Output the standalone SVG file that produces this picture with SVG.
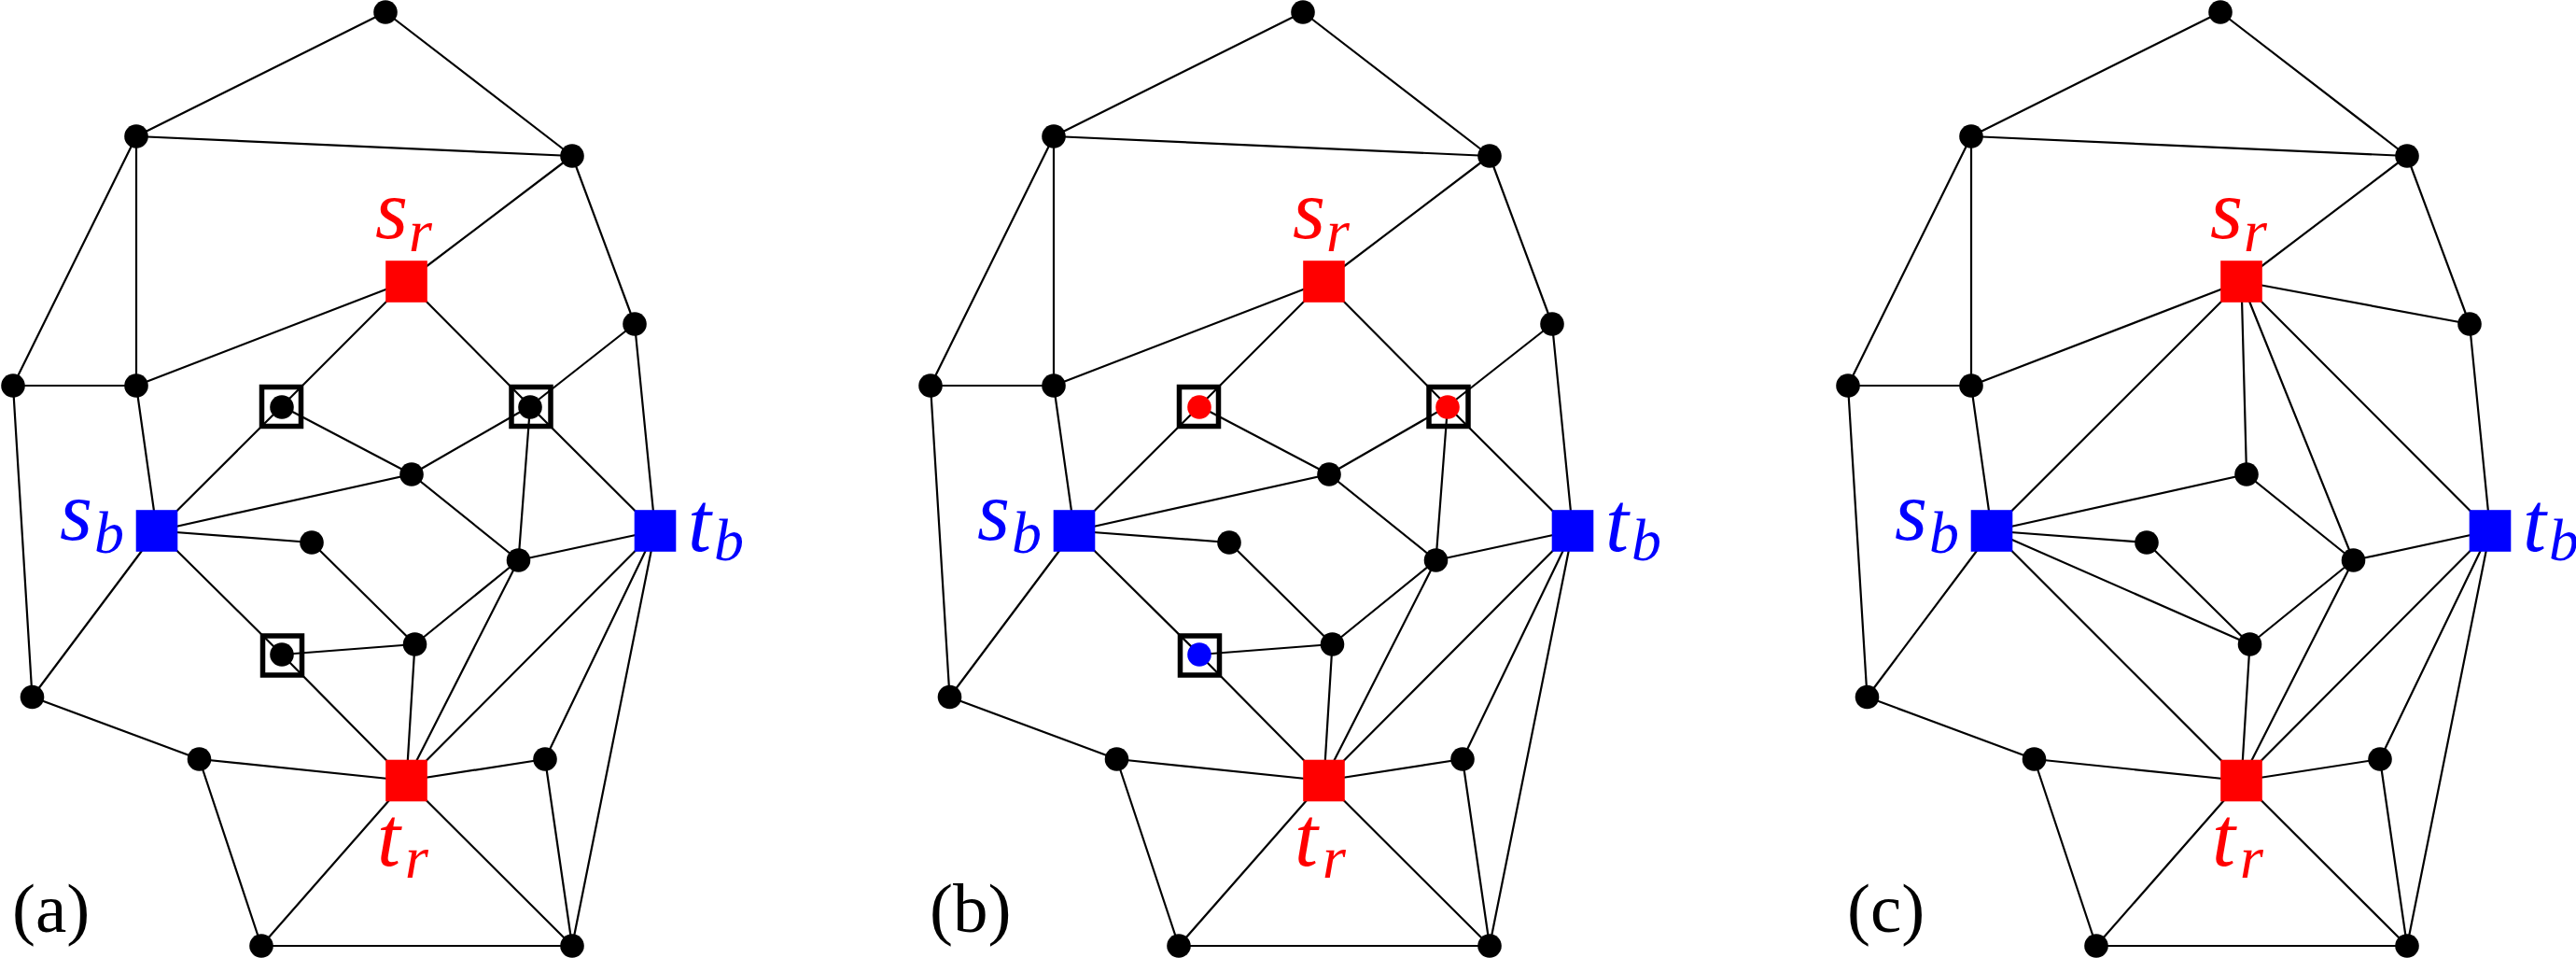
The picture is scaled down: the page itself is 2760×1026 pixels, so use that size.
<svg xmlns="http://www.w3.org/2000/svg" width="2760" height="1026" viewBox="0 0 2760 1026">
<style>
.e{stroke:#000;stroke-width:2.2;fill:none;stroke-linecap:round}
.box{fill:none;stroke:#000;stroke-width:5.5}
.red{fill:#ff0000}
.blue{fill:#0000ff}
text{font-family:'Liberation Serif','DejaVu Serif',serif}
.lab{font-style:italic;font-size:90px}
.sub{font-style:italic;font-size:64px}
.cap{font-size:75px;fill:#000}
</style>
<defs>
<circle id="dot" r="12.8"/>
<rect id="sq" x="-22.3" y="-22.3" width="44.6" height="44.6"/>
<rect id="bx" x="-21" y="-21" width="42" height="42"/>
</defs>
<rect width="2760" height="1026" fill="#fff"/>

<!-- Panel (a) -->
<g id="panel-a">
<g id="a-edges" class="e">
<line x1="413" y1="13" x2="146" y2="146"/>
<line x1="413" y1="13" x2="613" y2="167"/>
<line x1="146" y1="146" x2="613" y2="167"/>
<line x1="146" y1="146" x2="14" y2="413"/>
<line x1="146" y1="146" x2="146" y2="413"/>
<line x1="613" y1="167" x2="435.5" y2="301.5"/>
<line x1="613" y1="167" x2="680" y2="347"/>
<line x1="435.5" y1="301.5" x2="146" y2="413"/>
<line x1="435.5" y1="301.5" x2="302" y2="435"/>
<line x1="302" y1="435" x2="168" y2="568.5"/>
<line x1="302" y1="435" x2="441" y2="508"/>
<line x1="435.5" y1="301.5" x2="568" y2="435"/>
<line x1="568" y1="435" x2="680" y2="347"/>
<line x1="568" y1="435" x2="441" y2="508"/>
<line x1="568" y1="435" x2="555.5" y2="600"/>
<line x1="568" y1="435" x2="702" y2="568.5"/>
<line x1="680" y1="347" x2="702" y2="568.5"/>
<line x1="14" y1="413" x2="146" y2="413"/>
<line x1="14" y1="413" x2="34.5" y2="746.5"/>
<line x1="146" y1="413" x2="168" y2="568.5"/>
<line x1="441" y1="508" x2="168" y2="568.5"/>
<line x1="441" y1="508" x2="555.5" y2="600"/>
<line x1="168" y1="568.5" x2="334" y2="581"/>
<line x1="334" y1="581" x2="444.5" y2="690"/>
<line x1="168" y1="568.5" x2="302" y2="701"/>
<line x1="302" y1="701" x2="435.5" y2="836"/>
<line x1="302" y1="701" x2="444.5" y2="690"/>
<line x1="168" y1="568.5" x2="34.5" y2="746.5"/>
<line x1="34.5" y1="746.5" x2="213.5" y2="813"/>
<line x1="213.5" y1="813" x2="435.5" y2="836"/>
<line x1="213.5" y1="813" x2="280" y2="1013"/>
<line x1="555.5" y1="600" x2="702" y2="568.5"/>
<line x1="555.5" y1="600" x2="444.5" y2="690"/>
<line x1="555.5" y1="600" x2="435.5" y2="836"/>
<line x1="444.5" y1="690" x2="435.5" y2="836"/>
<line x1="702" y1="568.5" x2="435.5" y2="836"/>
<line x1="702" y1="568.5" x2="584" y2="813"/>
<line x1="702" y1="568.5" x2="613" y2="1013"/>
<line x1="435.5" y1="836" x2="584" y2="813"/>
<line x1="435.5" y1="836" x2="280" y2="1013"/>
<line x1="435.5" y1="836" x2="613" y2="1013"/>
<line x1="584" y1="813" x2="613" y2="1013"/>
<line x1="280" y1="1013" x2="613" y2="1013"/>
</g>
<g id="a-A"><use href="#dot" x="413" y="13"/></g>
<g id="a-B"><use href="#dot" x="146" y="146"/></g>
<g id="a-C"><use href="#dot" x="613" y="167"/></g>
<g id="a-D"><use href="#dot" x="680" y="347"/></g>
<g id="a-E"><use href="#dot" x="14" y="413"/></g>
<g id="a-F"><use href="#dot" x="146" y="413"/></g>
<g id="a-G"><use href="#dot" x="441" y="508"/></g>
<g id="a-H"><use href="#dot" x="334" y="581"/></g>
<g id="a-I"><use href="#dot" x="555.5" y="600"/></g>
<g id="a-J"><use href="#dot" x="444.5" y="690"/></g>
<g id="a-K"><use href="#dot" x="34.5" y="746.5"/></g>
<g id="a-L"><use href="#dot" x="213.5" y="813"/></g>
<g id="a-M"><use href="#dot" x="584" y="813"/></g>
<g id="a-N"><use href="#dot" x="280" y="1013"/></g>
<g id="a-O"><use href="#dot" x="613" y="1013"/></g>
<g id="a-X1"><use href="#bx" class="box" x="301.5" y="435.5"/><use href="#dot" x="302" y="436"/></g>
<g id="a-X2"><use href="#bx" class="box" x="569" y="435.5"/><use href="#dot" x="568" y="436"/></g>
<g id="a-X3"><use href="#bx" class="box" x="302.5" y="702"/><use href="#dot" x="302" y="701"/></g>
<g id="a-sr"><use href="#sq" class="red" x="435.5" y="301.5"/><text class="lab red" x="402" y="255">s</text><text class="sub red" x="438" y="269">r</text></g>
<g id="a-tr"><use href="#sq" class="red" x="435.5" y="836"/><text class="lab red" x="404" y="927">t</text><text class="sub red" x="434" y="940">r</text></g>
<g id="a-sb"><use href="#sq" class="blue" x="168" y="568.5"/><text class="lab blue" x="64" y="578">s</text><text class="sub blue" x="101" y="592">b</text></g>
<g id="a-tb"><use href="#sq" class="blue" x="702" y="568.5"/><text class="lab blue" x="737" y="590">t</text><text class="sub blue" x="765" y="600">b</text></g>
<text class="cap" x="13" y="998">(a)</text>
</g>

<!-- Panel (b) -->
<g id="panel-b" transform="translate(983,0)">
<g id="b-edges" class="e">
<line x1="413" y1="13" x2="146" y2="146"/>
<line x1="413" y1="13" x2="613" y2="167"/>
<line x1="146" y1="146" x2="613" y2="167"/>
<line x1="146" y1="146" x2="14" y2="413"/>
<line x1="146" y1="146" x2="146" y2="413"/>
<line x1="613" y1="167" x2="435.5" y2="301.5"/>
<line x1="613" y1="167" x2="680" y2="347"/>
<line x1="435.5" y1="301.5" x2="146" y2="413"/>
<line x1="435.5" y1="301.5" x2="302" y2="435"/>
<line x1="302" y1="435" x2="168" y2="568.5"/>
<line x1="302" y1="435" x2="441" y2="508"/>
<line x1="435.5" y1="301.5" x2="568" y2="435"/>
<line x1="568" y1="435" x2="680" y2="347"/>
<line x1="568" y1="435" x2="441" y2="508"/>
<line x1="568" y1="435" x2="555.5" y2="600"/>
<line x1="568" y1="435" x2="702" y2="568.5"/>
<line x1="680" y1="347" x2="702" y2="568.5"/>
<line x1="14" y1="413" x2="146" y2="413"/>
<line x1="14" y1="413" x2="34.5" y2="746.5"/>
<line x1="146" y1="413" x2="168" y2="568.5"/>
<line x1="441" y1="508" x2="168" y2="568.5"/>
<line x1="441" y1="508" x2="555.5" y2="600"/>
<line x1="168" y1="568.5" x2="334" y2="581"/>
<line x1="334" y1="581" x2="444.5" y2="690"/>
<line x1="168" y1="568.5" x2="302" y2="701"/>
<line x1="302" y1="701" x2="435.5" y2="836"/>
<line x1="302" y1="701" x2="444.5" y2="690"/>
<line x1="168" y1="568.5" x2="34.5" y2="746.5"/>
<line x1="34.5" y1="746.5" x2="213.5" y2="813"/>
<line x1="213.5" y1="813" x2="435.5" y2="836"/>
<line x1="213.5" y1="813" x2="280" y2="1013"/>
<line x1="555.5" y1="600" x2="702" y2="568.5"/>
<line x1="555.5" y1="600" x2="444.5" y2="690"/>
<line x1="555.5" y1="600" x2="435.5" y2="836"/>
<line x1="444.5" y1="690" x2="435.5" y2="836"/>
<line x1="702" y1="568.5" x2="435.5" y2="836"/>
<line x1="702" y1="568.5" x2="584" y2="813"/>
<line x1="702" y1="568.5" x2="613" y2="1013"/>
<line x1="435.5" y1="836" x2="584" y2="813"/>
<line x1="435.5" y1="836" x2="280" y2="1013"/>
<line x1="435.5" y1="836" x2="613" y2="1013"/>
<line x1="584" y1="813" x2="613" y2="1013"/>
<line x1="280" y1="1013" x2="613" y2="1013"/>
</g>
<g id="b-A"><use href="#dot" x="413" y="13"/></g>
<g id="b-B"><use href="#dot" x="146" y="146"/></g>
<g id="b-C"><use href="#dot" x="613" y="167"/></g>
<g id="b-D"><use href="#dot" x="680" y="347"/></g>
<g id="b-E"><use href="#dot" x="14" y="413"/></g>
<g id="b-F"><use href="#dot" x="146" y="413"/></g>
<g id="b-G"><use href="#dot" x="441" y="508"/></g>
<g id="b-H"><use href="#dot" x="334" y="581"/></g>
<g id="b-I"><use href="#dot" x="555.5" y="600"/></g>
<g id="b-J"><use href="#dot" x="444.5" y="690"/></g>
<g id="b-K"><use href="#dot" x="34.5" y="746.5"/></g>
<g id="b-L"><use href="#dot" x="213.5" y="813"/></g>
<g id="b-M"><use href="#dot" x="584" y="813"/></g>
<g id="b-N"><use href="#dot" x="280" y="1013"/></g>
<g id="b-O"><use href="#dot" x="613" y="1013"/></g>
<g id="b-X1"><use href="#bx" class="box" x="301.5" y="435.5"/><use href="#dot" class="red" x="302" y="436"/></g>
<g id="b-X2"><use href="#bx" class="box" x="569" y="435.5"/><use href="#dot" class="red" x="568" y="436"/></g>
<g id="b-X3"><use href="#bx" class="box" x="302.5" y="702"/><use href="#dot" class="blue" x="302" y="701"/></g>
<g id="b-sr"><use href="#sq" class="red" x="435.5" y="301.5"/><text class="lab red" x="402" y="255">s</text><text class="sub red" x="438" y="269">r</text></g>
<g id="b-tr"><use href="#sq" class="red" x="435.5" y="836"/><text class="lab red" x="404" y="927">t</text><text class="sub red" x="434" y="940">r</text></g>
<g id="b-sb"><use href="#sq" class="blue" x="168" y="568.5"/><text class="lab blue" x="64" y="578">s</text><text class="sub blue" x="101" y="592">b</text></g>
<g id="b-tb"><use href="#sq" class="blue" x="702" y="568.5"/><text class="lab blue" x="737" y="590">t</text><text class="sub blue" x="765" y="600">b</text></g>
<text class="cap" x="13" y="998">(b)</text>
</g>

<!-- Panel (c) -->
<g id="panel-c" transform="translate(1966,0)">
<g id="c-edges" class="e">
<line x1="413" y1="13" x2="146" y2="146"/>
<line x1="413" y1="13" x2="613" y2="167"/>
<line x1="146" y1="146" x2="613" y2="167"/>
<line x1="146" y1="146" x2="14" y2="413"/>
<line x1="146" y1="146" x2="146" y2="413"/>
<line x1="613" y1="167" x2="435.5" y2="301.5"/>
<line x1="613" y1="167" x2="680" y2="347"/>
<line x1="435.5" y1="301.5" x2="146" y2="413"/>
<line x1="435.5" y1="301.5" x2="680" y2="347"/>
<line x1="435.5" y1="301.5" x2="168" y2="568.5"/>
<line x1="435.5" y1="301.5" x2="441" y2="508"/>
<line x1="435.5" y1="301.5" x2="555.5" y2="600"/>
<line x1="435.5" y1="301.5" x2="702" y2="568.5"/>
<line x1="680" y1="347" x2="702" y2="568.5"/>
<line x1="14" y1="413" x2="146" y2="413"/>
<line x1="14" y1="413" x2="34.5" y2="746.5"/>
<line x1="146" y1="413" x2="168" y2="568.5"/>
<line x1="441" y1="508" x2="168" y2="568.5"/>
<line x1="441" y1="508" x2="555.5" y2="600"/>
<line x1="168" y1="568.5" x2="334" y2="581"/>
<line x1="168" y1="568.5" x2="444.5" y2="690"/>
<line x1="168" y1="568.5" x2="435.5" y2="836"/>
<line x1="168" y1="568.5" x2="34.5" y2="746.5"/>
<line x1="334" y1="581" x2="444.5" y2="690"/>
<line x1="555.5" y1="600" x2="444.5" y2="690"/>
<line x1="555.5" y1="600" x2="435.5" y2="836"/>
<line x1="555.5" y1="600" x2="702" y2="568.5"/>
<line x1="702" y1="568.5" x2="435.5" y2="836"/>
<line x1="702" y1="568.5" x2="584" y2="813"/>
<line x1="702" y1="568.5" x2="613" y2="1013"/>
<line x1="444.5" y1="690" x2="435.5" y2="836"/>
<line x1="34.5" y1="746.5" x2="213.5" y2="813"/>
<line x1="213.5" y1="813" x2="435.5" y2="836"/>
<line x1="213.5" y1="813" x2="280" y2="1013"/>
<line x1="435.5" y1="836" x2="584" y2="813"/>
<line x1="435.5" y1="836" x2="280" y2="1013"/>
<line x1="435.5" y1="836" x2="613" y2="1013"/>
<line x1="584" y1="813" x2="613" y2="1013"/>
<line x1="280" y1="1013" x2="613" y2="1013"/>
</g>
<g id="c-A"><use href="#dot" x="413" y="13"/></g>
<g id="c-B"><use href="#dot" x="146" y="146"/></g>
<g id="c-C"><use href="#dot" x="613" y="167"/></g>
<g id="c-D"><use href="#dot" x="680" y="347"/></g>
<g id="c-E"><use href="#dot" x="14" y="413"/></g>
<g id="c-F"><use href="#dot" x="146" y="413"/></g>
<g id="c-G"><use href="#dot" x="441" y="508"/></g>
<g id="c-H"><use href="#dot" x="334" y="581"/></g>
<g id="c-I"><use href="#dot" x="555.5" y="600"/></g>
<g id="c-J"><use href="#dot" x="444.5" y="690"/></g>
<g id="c-K"><use href="#dot" x="34.5" y="746.5"/></g>
<g id="c-L"><use href="#dot" x="213.5" y="813"/></g>
<g id="c-M"><use href="#dot" x="584" y="813"/></g>
<g id="c-N"><use href="#dot" x="280" y="1013"/></g>
<g id="c-O"><use href="#dot" x="613" y="1013"/></g>
<g id="c-sr"><use href="#sq" class="red" x="435.5" y="301.5"/><text class="lab red" x="402" y="255">s</text><text class="sub red" x="438" y="269">r</text></g>
<g id="c-tr"><use href="#sq" class="red" x="435.5" y="836"/><text class="lab red" x="404" y="927">t</text><text class="sub red" x="434" y="940">r</text></g>
<g id="c-sb"><use href="#sq" class="blue" x="168" y="568.5"/><text class="lab blue" x="64" y="578">s</text><text class="sub blue" x="101" y="592">b</text></g>
<g id="c-tb"><use href="#sq" class="blue" x="702" y="568.5"/><text class="lab blue" x="737" y="590">t</text><text class="sub blue" x="765" y="600">b</text></g>
<text class="cap" x="13" y="998">(c)</text>
</g>
</svg>
